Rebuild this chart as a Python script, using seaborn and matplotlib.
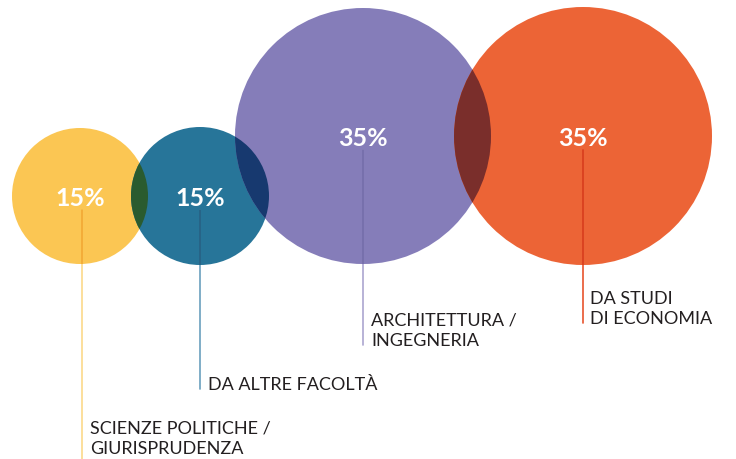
import matplotlib.pyplot as plt
import seaborn as sns
from matplotlib.patches import Circle

# data
categories = ["SCIENZE POLITICHE /\nGIURISPRUDENZA", "DA ALTRE FACOLTÀ",
              "ARCHITETTURA /\nINGEGNERIA", "DA STUDI\nDI ECONOMIA"]
shares = [15, 15, 35, 35]
colors = ["#FBC653", "#277599", "#857DB9", "#EC6436"]
line_colors = ["#FCD98A", "#6A9FBD", "#ABA6CF", "#E8542E"]
line_inner = ["#F2A62B", "#1D5A7E", "#6F67A6", "#D9401F"]
overlap_colors = ["#2A5B2F", "#17396F", "#7A2E2B"]

# layout (pixel space)
centers = [(80, 196), (200, 196), (363, 136), (583, 136)]
radii = [68, 69, 128, 129]
line_x = [82, 200, 363, 583]
line_ends = [459, 389, 345, 323]
text_x = [90, 208, 371, 590]
first_baseline = [434, 390, 325, 304]
line_gap = 20.5

sns.set_theme(style="white")
plt.rcParams['font.family'] = ['Lato', 'DejaVu Sans']

fig = plt.figure(figsize=(7.36, 4.59), dpi=100)
ax = fig.add_axes([0, 0, 1, 1])
ax.set_xlim(0, 736)
ax.set_ylim(459, 0)
ax.set_aspect('equal')
ax.axis('off')

circles = []
for (cx, cy), r, c in zip(centers, radii, colors):
    p = Circle((cx, cy), r, facecolor=c, edgecolor='none', zorder=1)
    ax.add_patch(p)
    circles.append(p)

# darker overlap lenses
for i, oc in enumerate(overlap_colors):
    (cx, cy), r = centers[i + 1], radii[i + 1]
    lens = Circle((cx, cy), r, facecolor=oc, edgecolor='none', zorder=2)
    ax.add_patch(lens)
    lens.set_clip_path(circles[i])

for i, (cat, val) in enumerate(zip(categories, shares)):
    cx, cy = centers[i]
    ax.text(cx, cy + 1, f"{val}%", color='white', fontsize=18, fontweight='bold',
            ha='center', va='center_baseline', zorder=5)
    lx = line_x[i]
    ax.plot([lx, lx], [cy + 14, line_ends[i]], color=line_colors[i], lw=1.2, zorder=3)
    inner, = ax.plot([lx, lx], [cy + 14, line_ends[i]], color=line_inner[i], lw=1.2, zorder=4)
    inner.set_clip_path(circles[i])
    for k, row in enumerate(cat.split("\n")):
        ax.text(text_x[i], first_baseline[i] + k * line_gap, row, color='#231F20',
                fontsize=13, ha='left', va='baseline', zorder=5)

fig.savefig("out.png", dpi=100, facecolor='white')
